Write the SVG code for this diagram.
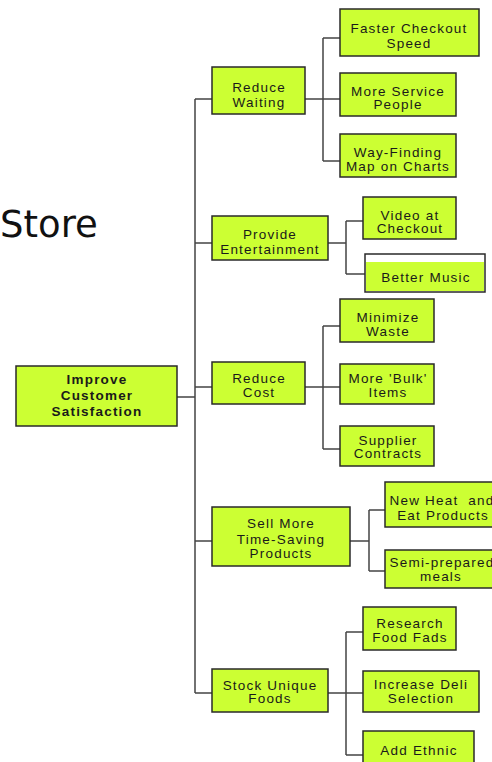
<svg xmlns="http://www.w3.org/2000/svg" width="492" height="762" viewBox="0 0 492 762">
<style>
.b{fill:#ccff33;stroke:#2a2a2a;stroke-width:1.5}
.t{font-family:"Liberation Sans",Arial,sans-serif;font-size:13.5px;letter-spacing:1.2px;fill:#1a1a1a;text-anchor:middle}
.r{font-weight:bold}
.c{fill:none;stroke:#444;stroke-width:1.5}
</style>
<rect width="492" height="762" fill="#ffffff"/>
<text x="0" y="237" font-family="DejaVu Sans,Verdana,sans-serif" font-size="37" fill="#111">Store</text>
<g id="connectors" class="c">
<path d="M177 397H195M195 99V693M195 99H212M195 243H212M195 387H212M195 541H212M195 693H212"/>
<path d="M305 99H323M323 38V161M323 38H340M323 99H340M323 161H340"/>
<path d="M328 243H346M346 221V274M346 221H363M346 274H365"/>
<path d="M305 387H323M323 326V449M323 326H340M323 387H340M323 449H340"/>
<path d="M350 541H369M369 510V571M369 510H385M369 571H385"/>
<path d="M328 693H346M346 632V755M346 632H363M346 693H363M346 755H363"/>
</g>
<g id="root"><rect class="b" x="16" y="366" width="161" height="60"/><text class="t r" x="97" y="384">Improve</text><text class="t r" x="97" y="400">Customer</text><text class="t r" x="97" y="416">Satisfaction</text></g>
<g id="reduce-waiting"><rect class="b" x="212" y="67" width="93" height="47"/><text class="t" x="259" y="92">Reduce</text><text class="t" x="259" y="107">Waiting</text></g>
<g id="faster-checkout"><rect class="b" x="340" y="9" width="139" height="47"/><text class="t" x="409" y="33">Faster Checkout</text><text class="t" x="409" y="48">Speed</text></g>
<g id="more-service"><rect class="b" x="340" y="73" width="116" height="43"/><text class="t" x="398" y="96">More Service</text><text class="t" x="398" y="109">People</text></g>
<g id="way-finding"><rect class="b" x="340" y="134" width="116" height="43"/><text class="t" x="398" y="157">Way-Finding</text><text class="t" x="398" y="171">Map on Charts</text></g>
<g id="provide-entertainment"><rect class="b" x="212" y="216" width="116" height="44"/><text class="t" x="270" y="239">Provide</text><text class="t" x="270" y="254">Entertainment</text></g>
<g id="video-checkout"><rect class="b" x="363" y="197" width="93" height="42"/><text class="t" x="410" y="220">Video at</text><text class="t" x="410" y="233">Checkout</text></g>
<g id="better-music"><rect x="365" y="254" width="120" height="38" fill="#ffffff" stroke="#2a2a2a" stroke-width="1.5"/><rect x="366" y="262" width="118" height="29" fill="#ccff33"/><text class="t" x="426" y="282">Better Music</text></g>
<g id="reduce-cost"><rect class="b" x="212" y="362" width="93" height="42"/><text class="t" x="259" y="383">Reduce</text><text class="t" x="259" y="397">Cost</text></g>
<g id="minimize-waste"><rect class="b" x="340" y="299" width="94" height="43"/><text class="t" x="388" y="322">Minimize</text><text class="t" x="388" y="336">Waste</text></g>
<g id="bulk-items"><rect class="b" x="340" y="364" width="94" height="40"/><text class="t" x="388" y="383">More 'Bulk'</text><text class="t" x="388" y="397">Items</text></g>
<g id="supplier-contracts"><rect class="b" x="340" y="426" width="94" height="40"/><text class="t" x="388" y="445">Supplier</text><text class="t" x="388" y="458">Contracts</text></g>
<g id="sell-more"><rect class="b" x="212" y="507" width="138" height="59"/><text class="t" x="281" y="528">Sell More</text><text class="t" x="281" y="544">Time-Saving</text><text class="t" x="281" y="558">Products</text></g>
<g id="heat-eat"><rect class="b" x="385" y="482" width="112" height="45"/><text class="t" x="442" y="505" xml:space="preserve">New Heat  and</text><text class="t" x="443" y="520">Eat Products</text></g>
<g id="semi-prepared"><rect class="b" x="385" y="550" width="112" height="38"/><text class="t" x="442" y="567">Semi-prepared</text><text class="t" x="441" y="581">meals</text></g>
<g id="stock-unique"><rect class="b" x="212" y="669" width="116" height="43"/><text class="t" x="270" y="690">Stock Unique</text><text class="t" x="270" y="703">Foods</text></g>
<g id="research-fads"><rect class="b" x="363" y="607" width="93" height="43"/><text class="t" x="410" y="628">Research</text><text class="t" x="410" y="642">Food Fads</text></g>
<g id="deli-selection"><rect class="b" x="363" y="671" width="116" height="41"/><text class="t" x="421" y="689">Increase Deli</text><text class="t" x="421" y="703">Selection</text></g>
<g id="add-ethnic"><rect class="b" x="363" y="731" width="111" height="40"/><text class="t" x="419" y="755">Add Ethnic</text></g>
</svg>
